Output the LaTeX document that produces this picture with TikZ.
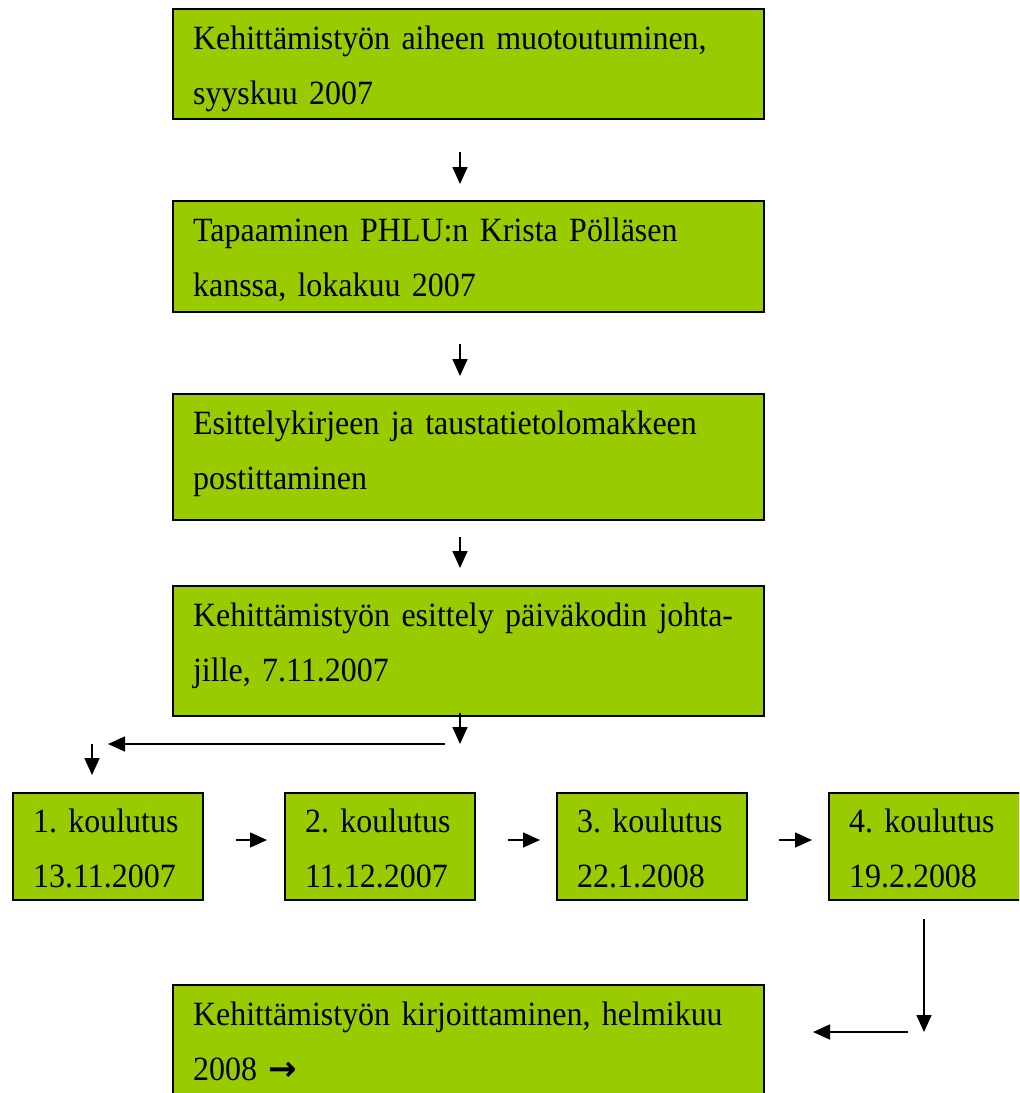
\documentclass[tikz,border=0pt]{standalone}
\usepackage{fontspec}
\setmainfont[WordSpace=0.8, FakeStretch=0.94]{Liberation Serif}
\newfontfamily\arrowfont{DejaVu Sans}
\usepackage{xcolor}
\usetikzlibrary{arrows.meta, positioning}
\definecolor{boxgreen}{HTML}{99CC00}
\frenchspacing

\begin{document}
\begin{tikzpicture}[
	x=0.5pt, y=0.5pt,
	node distance=40pt and 40pt, % gaps between the boxes
	box/.style={draw, rectangle, fill=boxgreen, line width=1.1pt, inner xsep=10pt, inner ysep=0pt, text width=275.4pt, text height=20pt, font=\fontsize{17}{27.75}\selectfont},
	kbox/.style={box, text width=74.9pt, text height=19.5pt, text depth=33.9pt},
	arrow/.style={-{Triangle[length=8.5pt, width=7.5pt]}, line width=0.85pt}
	]
	
	\useasboundingbox (0,0) rectangle (1019,-1093);
	\clip (0,0) rectangle (1019,-1093);
	
	% --- Main column: from topic to introduction ---
	\node[box, text depth=34.9pt, anchor=north west] (aihe) at (172,-8) {Kehittämistyön aiheen muotoutuminen,\\syyskuu 2007};
	\node[box, text depth=35.4pt, below=of aihe] (tapaaminen) {Tapaaminen PHLU:n Krista Pölläsen\\kanssa, lokakuu 2007};
	\node[box, text depth=42.9pt, below=of tapaaminen] (kirje) {Esittelykirjeen ja taustatietolomakkeen\\postittaminen};
	\node[box, text depth=44.9pt, below=32pt of kirje] (esittely) {Kehittämistyön esittely päiväkodin johta-\\jille, 7.11.2007};
	
	% Arrows for main column
	\draw[arrow, shorten <=16pt, shorten >=8pt] ([xshift=-4.25pt]aihe.south) -- ([xshift=-4.25pt]tapaaminen.north);
	\draw[arrow, shorten <=15.5pt, shorten >=8.5pt] ([xshift=-4.25pt]tapaaminen.south) -- ([xshift=-4.25pt]kirje.north);
	\draw[arrow, shorten <=8pt, shorten >=8.5pt] ([xshift=-4.25pt]kirje.south) -- ([xshift=-4.25pt]esittely.north);
	
	
	% --- Training row ---
	\node[kbox, anchor=north west] (k1) at (12,-792) {1. koulutus\\13.11.2007};
	\node[kbox, right=of k1] (k2) {2. koulutus\\11.12.2007};
	\node[kbox, right=of k2] (k3) {3. koulutus\\22.1.2008};
	% last one runs past the right edge
	\node[kbox, text width=77pt, right=of k3] (k4) {4. koulutus\\19.2.2008};
	
	% Split from the introduction down to the first training
	\coordinate[below=13.5pt of esittely.south, xshift=-4.25pt] (haara);
	\draw[arrow, shorten <=-2pt] ([xshift=-4.25pt]esittely.south) -- (haara);
	\draw[arrow] ([xshift=-7.5pt]haara) -- (haara -| k1.north);
	\draw[arrow, shorten >=8.5pt] ([xshift=-8pt]haara -| k1.north) -- ([xshift=-8pt]k1.north);
	
	% Arrows for training row
	\draw[arrow, shorten <=16pt, shorten >=8.5pt] ([yshift=3.25pt]k1.east) -- ([yshift=3.25pt]k2.west);
	\draw[arrow, shorten <=16pt, shorten >=8pt] ([yshift=3.25pt]k2.east) -- ([yshift=3.25pt]k3.west);
	\draw[arrow, shorten <=15.5pt, shorten >=8pt] ([yshift=3.25pt]k3.east) -- ([yshift=3.25pt]k4.west);
	
	
	% --- Writing, runs past the bottom edge ---
	\node[box, text depth=60pt, anchor=north west] (kirjoitus) at (172,-984) {Kehittämistyön kirjoittaminen, helmikuu\\2008 {\arrowfont\bfseries →}};
	
	\coordinate[below=65.5pt of k4.south west, xshift=48pt] (kulma);
	\draw[arrow, shorten <=9pt] (k4.south west -| kulma) -- (kulma);
	\draw[arrow, shorten >=24pt] ([xshift=-8pt]kulma) -- (kulma -| kirjoitus.east);
	
\end{tikzpicture}
\end{document}
